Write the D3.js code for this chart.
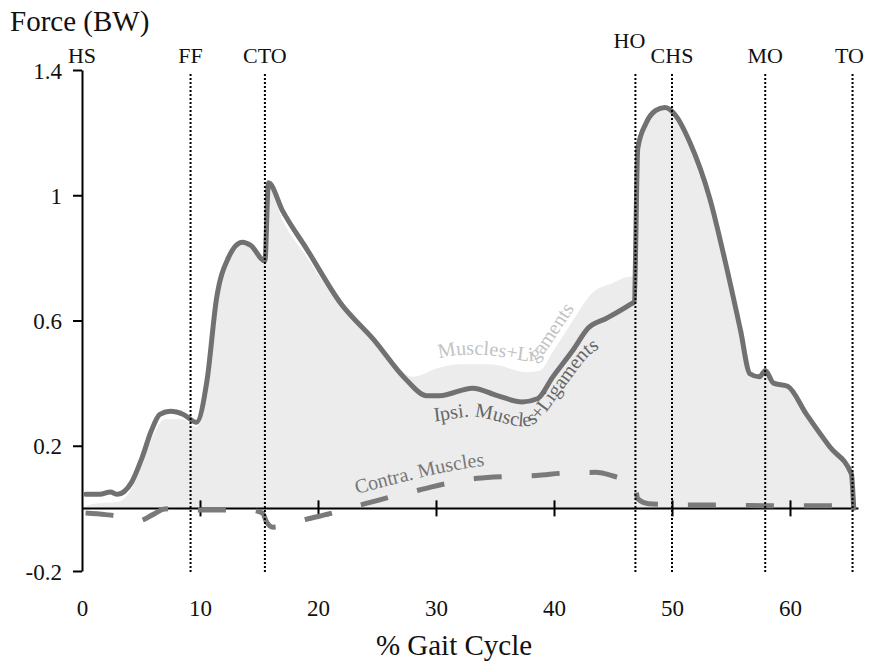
<!DOCTYPE html>
<html lang="en">
<head>
    <meta charset="UTF-8">
    <title>Force over Gait Cycle</title>
    <style>
        body{ margin:0; background:#fff; }
        svg{ display:block; background:#fff; }
        text{ font-family:"Liberation Serif","Times New Roman",serif; fill:#111; }
        .axis text{ font-size:23px; }
        .axis line,.axis path{ stroke:#000; stroke-width:2px; }
        .event{ stroke:#000; stroke-width:2px; stroke-dasharray:2 2; }
        .eventLabel{ font-size:22px; text-anchor:middle; }
        .ipsi{ fill:none; stroke:#717171; stroke-width:5px; stroke-linejoin:round; stroke-linecap:round; }
        .contra{ fill:none; stroke:#7a7a7a; stroke-width:5px; stroke-dasharray:28 30; }
        .area{ fill:#ececec; }
        .curveLabel{ font-size:20px; }
    </style>
    <script src="https://cdn.jsdelivr.net/npm/d3@7"></script>
</head>
<body>
<script>
    // tick values
    const xTicks = [0,10,20,30,40,50,60];
    const yTicks = [-0.2,0.2,0.6,1,1.4];

    // gait events
    const eventNames = ["HS","FF","CTO","HO","CHS","MO","TO"];
    const eventPct   = [0,9.2,15.5,46.9,50,57.9,65.3];

    // Ipsi. Muscles+Ligaments (dark line)
    const ipsiPct = [0.3,1.5,2.4,3.0,4.2,5.1,5.9,6.6,7.5,8.6,9.7,10.6,11.4,12.4,13.6,14.3,15.5,15.8,17.0,19.1,21.9,24.7,27.5,29.2,30.3,33.1,35.2,37.3,38.6,39.9,41.6,42.9,44.5,46.4,46.8,47.1,47.8,48.6,49.4,50.2,51.5,53.2,54.5,55.8,56.6,57.4,57.9,58.6,59.8,61.4,63.4,65.2,65.4];
    const ipsiForce = [0.045,0.045,0.052,0.045,0.083,0.163,0.25,0.30,0.31,0.30,0.275,0.41,0.67,0.80,0.85,0.84,0.79,1.04,0.95,0.825,0.656,0.54,0.41,0.36,0.36,0.384,0.36,0.34,0.35,0.42,0.505,0.576,0.608,0.65,0.66,1.15,1.23,1.27,1.28,1.26,1.17,0.99,0.79,0.57,0.43,0.42,0.44,0.40,0.39,0.30,0.195,0.11,0.0];

    // Muscles+Ligaments (light filled area)
    const allPct = [0,1,3,4,5,6,7,8.5,9.7,10.6,11.4,12.4,13.6,14.3,15.5,15.8,17.0,19.1,21.9,24.7,26.5,28.0,30.3,32.0,34.6,37.7,38.8,39.9,41.6,43.3,45.0,46.4,46.9,47.1,47.8,48.6,49.4,50.2,51.5,53.2,54.5,55.8,56.6,57.4,57.9,58.6,59.8,61.4,63.4,65.2,65.4];
    const allForce = [0,0.015,0.02,0.05,0.13,0.23,0.285,0.285,0.26,0.40,0.66,0.79,0.84,0.83,0.78,1.03,0.92,0.80,0.645,0.54,0.46,0.42,0.45,0.46,0.46,0.435,0.44,0.50,0.60,0.69,0.72,0.74,0.74,1.15,1.23,1.27,1.28,1.26,1.17,0.99,0.79,0.57,0.43,0.42,0.44,0.40,0.39,0.30,0.195,0.11,0.0];

    // Contra. Muscles (dashed)
    const contraPct = [0.3,2,3,4,4.8,6,7,8.5,10,12,14,15.3,15.6,16.2,17.5,19,21,23,24.5,26,28.5,31,33.5,36,38.5,41,43.5,45.8,46.8,47.1,48,50,55,60,64.5,65.5];
    const contraForce = [-0.015,-0.02,-0.025,-0.035,-0.04,-0.02,-0.002,0,-0.005,-0.005,-0.005,-0.015,-0.04,-0.06,-0.05,-0.035,-0.017,0.005,0.02,0.035,0.058,0.08,0.096,0.102,0.105,0.113,0.115,0.096,0.09,0.03,0.015,0.012,0.01,0.008,0.008,0];

    const width = 872, height = 662;
    const svg = d3.select("body").append("svg")
        .attr("width", width).attr("height", height)
        .attr("viewBox", `0,0,${width},${height}`);

    const xScale = d3.scaleLinear().domain([0,60]).range([82,790]);
    const yScale = d3.scaleLinear().domain([-0.2,1.4]).range([571,70]);

    const zip = (xs, ys) => xs.map((x,i) => ({pct:x, f:ys[i]}));
    const ipsi = zip(ipsiPct, ipsiForce);
    const all = zip(allPct, allForce);
    const contra = zip(contraPct, contraForce);

    // filled area
    const areaGen = d3.area()
        .x(d => xScale(d.pct))
        .y0(yScale(0))
        .y1(d => yScale(d.f))
        .curve(d3.curveMonotoneX);
    svg.append("path").attr("class","area").attr("d", areaGen(all));

    // zero line with crossing ticks
    svg.append("line")
        .attr("x1", xScale(0)).attr("x2", xScale(65.8))
        .attr("y1", yScale(0)).attr("y2", yScale(0))
        .attr("stroke","#000").attr("stroke-width",2);
    const xTickAxis = svg.append("g").attr("class","axis")
        .attr("transform", `translate(0,${yScale(0)})`)
        .call(d3.axisBottom(xScale).tickValues(xTicks.slice(1)).tickSize(8).tickFormat(""));
    xTickAxis.select(".domain").remove();
    xTickAxis.selectAll(".tick line").attr("y1",-8);

    // x tick labels
    const xLab = svg.append("g").attr("class","axis")
        .attr("transform", `translate(0,571)`)
        .call(d3.axisBottom(xScale).tickValues(xTicks).tickSize(0).tickFormat(d => String(d)));
    xLab.select(".domain").remove();
    xLab.selectAll("text").attr("y", 45).attr("dy", 0);

    // y axis
    const yAxis = svg.append("g").attr("class","axis")
        .attr("transform", `translate(${xScale(0)},0)`)
        .call(d3.axisLeft(yScale).tickValues(yTicks).tickSize(9).tickSizeOuter(0).tickFormat(d => String(d)));
    yAxis.selectAll("text").attr("x", -20).attr("dy","0.35em");

    // lines
    const lineGen = d3.line()
        .x(d => xScale(d.pct))
        .y(d => yScale(d.f))
        .curve(d3.curveMonotoneX);
    svg.append("path").attr("class","contra").attr("d", lineGen(contra));
    svg.append("path").attr("class","ipsi").attr("d", lineGen(ipsi));

    // event markers
    const ev = eventNames.map((n,i) => ({name:n, pct:eventPct[i]}));
    svg.append("g").selectAll("line")
        .data(ev.filter(d => d.pct > 0))
        .enter().append("line")
        .attr("class","event")
        .attr("x1", d => xScale(d.pct)).attr("x2", d => xScale(d.pct))
        .attr("y1", 74).attr("y2", 573);
    svg.append("g").selectAll("text")
        .data(ev)
        .enter().append("text")
        .attr("class","eventLabel")
        .attr("x", d => xScale(d.pct) + (d.name === "HO" ? -6 : d.name === "TO" ? -3 : 0))
        .attr("y", d => d.name === "HO" ? 48 : 63)
        .text(d => d.name);

    // curve labels along paths
    const labelLine = (data, lo, hi, dy) => d3.line()
        .x(d => xScale(d.pct))
        .y(d => yScale(d.f) + dy)
        .curve(d3.curveBasis)(data.filter(d => d.pct >= lo && d.pct <= hi));

    const defs = svg.append("defs");
    defs.append("path").attr("id","pAll").attr("d", labelLine(all, 27.5, 46.4, -10));
    defs.append("path").attr("id","pIpsi").attr("d", labelLine(ipsi, 29.2, 46.8, 26));
    defs.append("path").attr("id","pContra").attr("d", labelLine(contra, 21, 41, -12));

    svg.append("text").attr("class","curveLabel").style("fill","#c2c2c2")
        .append("textPath").attr("href","#pAll").attr("startOffset", 28)
        .text("Muscles+Ligaments");
    svg.append("text").attr("class","curveLabel").style("fill","#666")
        .append("textPath").attr("href","#pIpsi").attr("startOffset", 8)
        .text("Ipsi. Muscles+Ligaments");
    svg.append("text").attr("class","curveLabel").style("fill","#777")
        .append("textPath").attr("href","#pContra").attr("startOffset", 28)
        .text("Contra. Muscles");

    // axis titles
    svg.append("text")
        .attr("x", 10).attr("y", 31)
        .style("font-size","29px")
        .text("Force (BW)");
    svg.append("text")
        .attr("x", 454).attr("y", 655)
        .style("font-size","29px")
        .style("text-anchor","middle")
        .text("% Gait Cycle");
</script>
</body>
</html>
